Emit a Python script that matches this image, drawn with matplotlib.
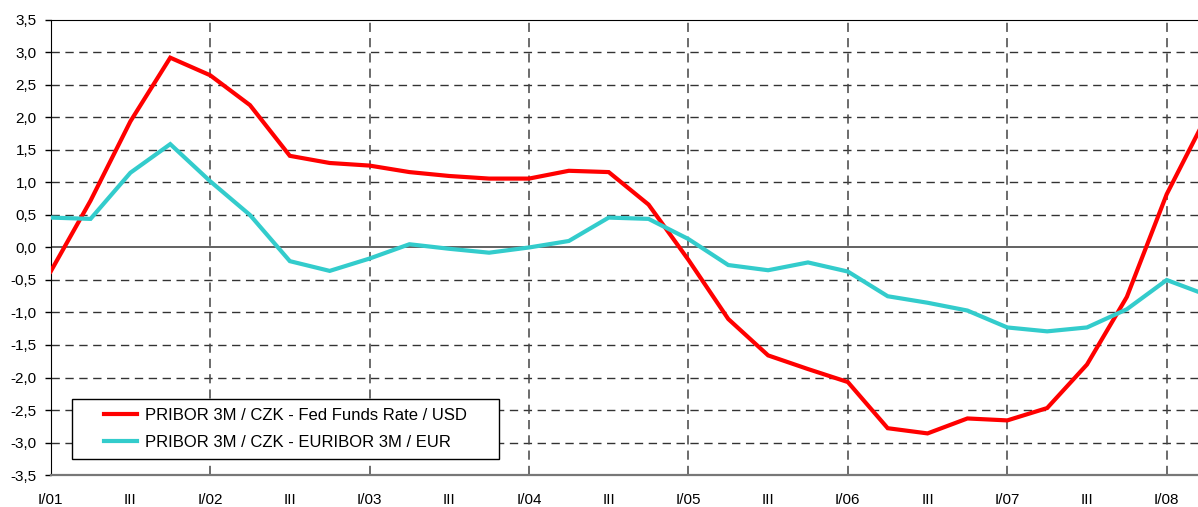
import numpy as np
import matplotlib
matplotlib.use("Agg")
import matplotlib.pyplot as plt
from matplotlib.patches import Rectangle
from matplotlib.ticker import FuncFormatter

plt.rcParams['font.family'] = ['Liberation Sans', 'DejaVu Sans']

# quarterly data, I/01 .. II/08
quarters = [f"{q}/{y:02d}" for y in range(1, 9) for q in ["I", "II", "III", "IV"]][:30]
usd_diff = [-0.37, 0.72, 1.94, 2.92, 2.65, 2.19, 1.41, 1.30, 1.26, 1.16,
            1.10, 1.06, 1.06, 1.18, 1.16, 0.66, -0.19, -1.10, -1.66, -1.87,
            -2.07, -2.78, -2.86, -2.63, -2.66, -2.47, -1.80, -0.76, 0.82, 2.02]
eur_diff = [0.46, 0.44, 1.15, 1.59, 1.02, 0.50, -0.21, -0.36, -0.17, 0.05,
            -0.02, -0.08, 0.00, 0.10, 0.46, 0.44, 0.13, -0.27, -0.35, -0.23,
            -0.37, -0.75, -0.85, -0.97, -1.23, -1.29, -1.23, -0.95, -0.50, -0.73]
series_names = ["PRIBOR 3M / CZK - Fed Funds Rate / USD",
                "PRIBOR 3M / CZK - EURIBOR 3M / EUR"]
series_colors = ["#ff0000", "#33cccc"]

x = np.arange(len(quarters))
tick_pos = x[::2][:15]
tick_labels = [q if q.startswith("I/") else "III" for q in quarters[::2][:15]]

fig = plt.figure(figsize=(11.98, 5.07), dpi=100)
ax = fig.add_axes([0.0423, 0.0631, 0.9577, 0.8975])

for vals, name, col in zip([usd_diff, eur_diff], series_names, series_colors):
    ax.plot(x, vals, color=col, lw=3.0, label=name, zorder=3, solid_joinstyle='miter')

ax.set_xlim(0, 28.785)
ax.set_ylim(-3.5, 3.5)
ax.set_yticks(np.arange(-3.5, 3.51, 0.5))
ax.yaxis.set_major_formatter(FuncFormatter(lambda v, p: f"{v:.1f}".replace(".", ",")))
ax.set_xticks(tick_pos)
ax.set_xticklabels(tick_labels)
ax.tick_params(axis='x', length=0, pad=13, labelsize=11)
ax.tick_params(axis='y', length=4, width=1, pad=6, labelsize=11, direction='out')

# grid
for yv in np.arange(-3.0, 3.01, 0.5):
    if abs(yv) < 1e-9:
        ax.axhline(0, color="#555555", lw=1.3, zorder=2)
    else:
        ax.axhline(yv, color="#333333", lw=1.0, ls=(0, (6, 4)), zorder=1)
for xv in x[::4]:
    ax.axvline(xv, color="#444444", lw=1.1, ls=(0, (6, 4)), zorder=1)

ax.spines['right'].set_visible(False)
ax.spines['top'].set_color("black")
ax.spines['left'].set_color("black")
ax.spines['bottom'].set_color("#777777")
ax.spines['bottom'].set_linewidth(1.6)

# legend box
box = Rectangle((0.0186, 0.035), 427 / 1147.3, 60 / 455, transform=ax.transAxes,
                facecolor="white", edgecolor="black", lw=1.0, zorder=4)
ax.add_patch(box)
leg = ax.legend(loc='center', bbox_to_anchor=(0.0186 + 427 / 1147.3 / 2, 0.035 + 30 / 455),
                frameon=False, fontsize=12, handlelength=2.0, handletextpad=0.45,
                labelspacing=0.75, borderpad=0)
leg.set_zorder(5)

fig.savefig("out.png", dpi=100)
